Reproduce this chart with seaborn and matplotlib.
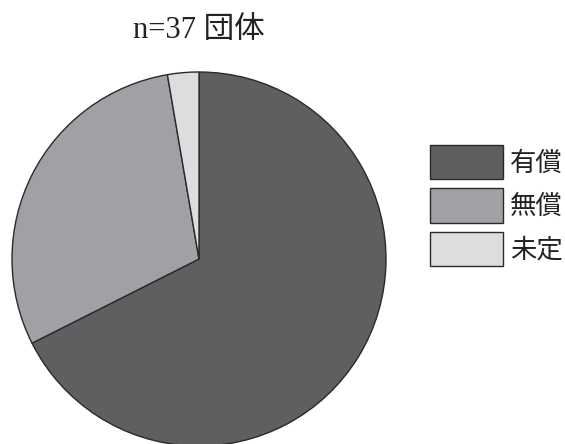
import matplotlib
matplotlib.use("Agg")
import matplotlib.pyplot as plt
import seaborn as sns

# Response breakdown (number of organisations)
labels = ["有償", "無償", "未定"]
counts = [25, 11, 1]
colors = ["#5f5f61", "#a0a1a4", "#dcdddf"]
title = "n=37 団体"

sns.set_theme(style="white")
plt.rcParams["font.family"] = ["Liberation Serif", "Noto Sans CJK JP", "DejaVu Sans"]

W, H = 565, 444
fig = plt.figure(figsize=(W / 100, H / 100), dpi=100)
fig.patch.set_facecolor("white")

# pie centre (199, 259) px from top-left, radius 187 px
cx, cy, r = 199, 259, 187
ax = fig.add_axes([(cx - r) / W, (H - cy - r) / H, 2 * r / W, 2 * r / H])
wedges, _ = ax.pie(
    counts,
    colors=colors,
    startangle=90,
    counterclock=False,
    radius=1.0,
    wedgeprops=dict(edgecolor="#2a2a2a", linewidth=1.0),
)
for w in wedges:
    w.set_clip_on(False)
ax.set_xlim(-1, 1)
ax.set_ylim(-1, 1)
ax.set_aspect("equal")
ax.axis("off")

fig.text(cx / W, 1 - 38 / H, title, ha="center", va="baseline", fontsize=22,
         color="#222222")

# legend swatches about 73 x 35 px with ~9 px gaps
fs = 19
leg = fig.legend(
    wedges, labels,
    loc="upper left",
    bbox_to_anchor=(430 / W, 1 - 145 / H),
    frameon=False,
    fontsize=fs,
    handlelength=2.77,
    handleheight=1.634,
    handletextpad=0.25,
    labelspacing=0.34,
    borderpad=0.0,
    borderaxespad=0.0,
)
for t in leg.get_texts():
    t.set_color("#222222")

fig.savefig("out.png", dpi=100, facecolor="white")
